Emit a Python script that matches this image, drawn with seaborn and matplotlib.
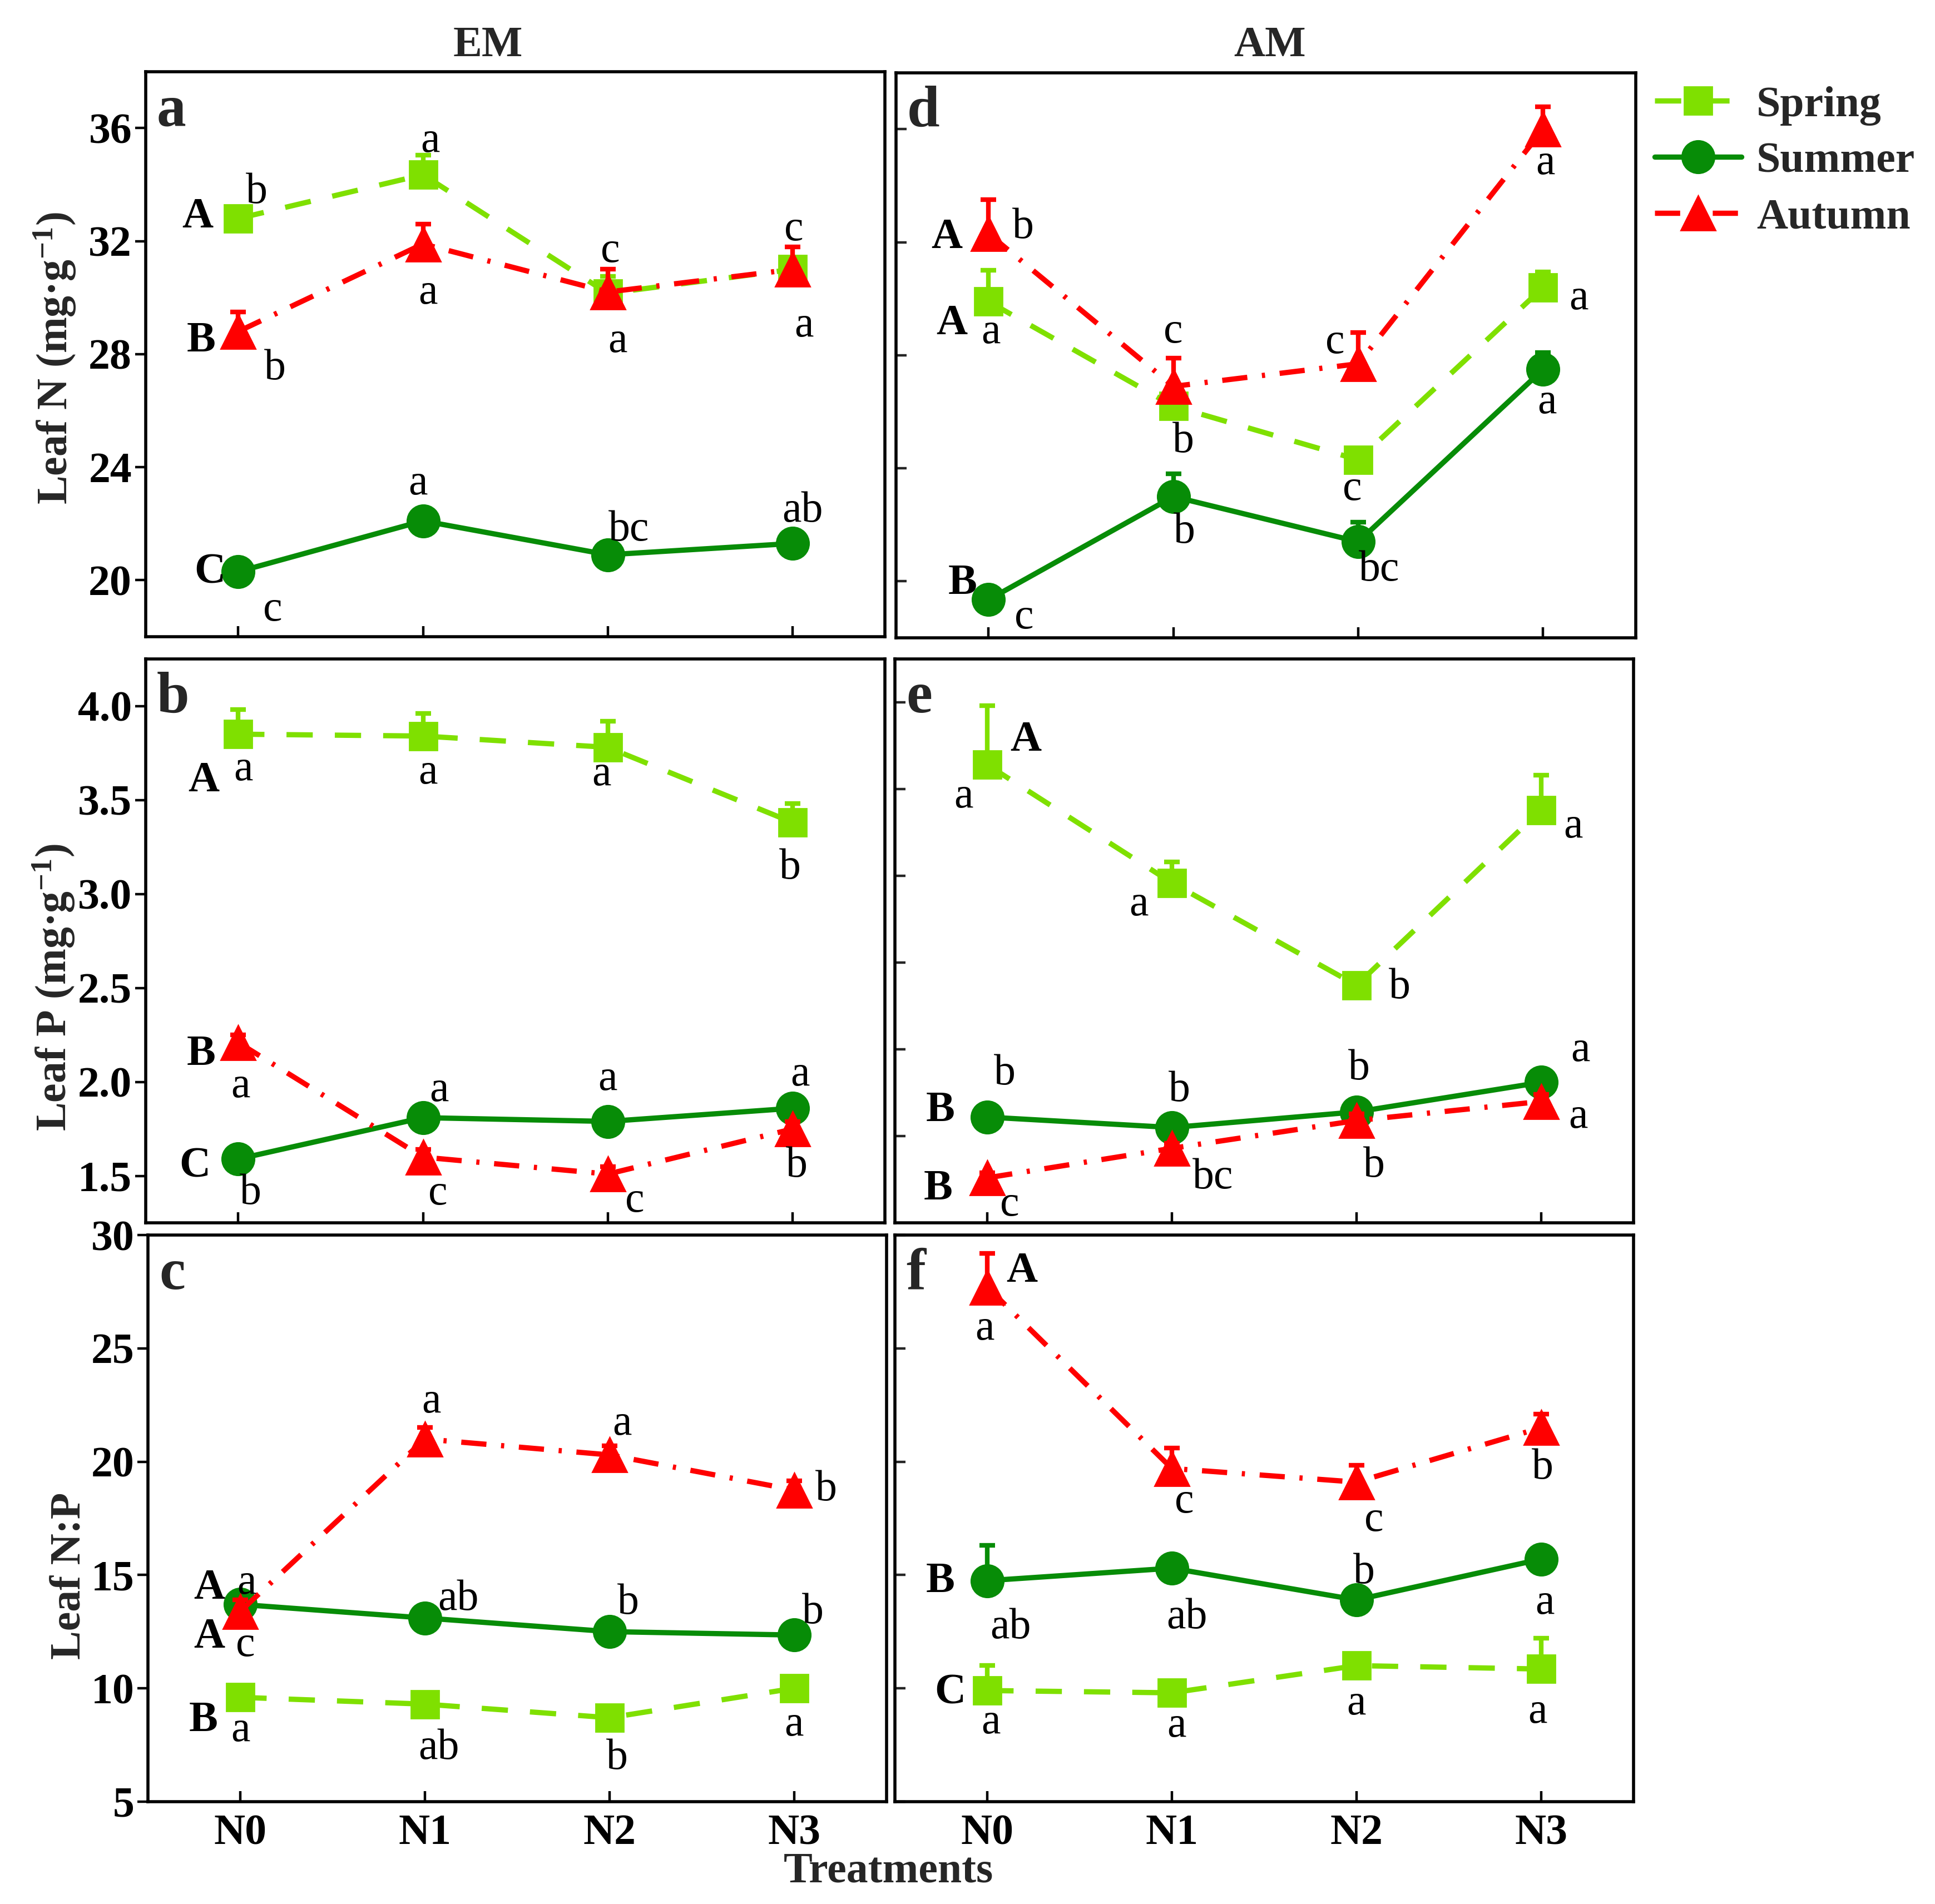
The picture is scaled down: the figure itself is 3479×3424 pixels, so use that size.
import numpy as np
import matplotlib
matplotlib.use("Agg")
import matplotlib.pyplot as plt
import seaborn as sns

# ---------------- data ----------------
treatments = ["N0", "N1", "N2", "N3"]
seasons = ["Spring", "Summer", "Autumn"]

# Leaf N (mg g-1)
EM_N_spring = [32.8, 34.35, 30.15, 31.0]
EM_N_summer = [20.3, 22.1, 20.9, 21.3]
EM_N_autumn = [28.8, 31.9, 30.2, 31.0]
AM_N_spring = [29.9, 26.2, 24.3, 30.4]
AM_N_summer = [19.35, 23.0, 21.4, 27.5]
AM_N_autumn = [32.3, 26.9, 27.7, 36.0]
EM_N_spring_se = [0.3, 0.7, 0.6, 0.4]
EM_N_summer_se = [0.2, 0.3, 0.2, 0.2]
EM_N_autumn_se = [0.7, 0.7, 0.8, 0.8]
AM_N_spring_se = [1.1, 0.4, 0.3, 0.55]
AM_N_summer_se = [0.3, 0.8, 0.7, 0.6]
AM_N_autumn_se = [1.2, 1.0, 1.1, 0.8]

# Leaf P (mg g-1)
EM_P_spring = [3.85, 3.84, 3.78, 3.38]
EM_P_summer = [1.59, 1.81, 1.79, 1.86]
EM_P_autumn = [2.21, 1.60, 1.51, 1.75]
AM_P_spring = [3.64, 2.96, 2.37, 3.38]
AM_P_summer = [1.61, 1.55, 1.64, 1.81]
AM_P_autumn = [1.26, 1.43, 1.59, 1.70]
EM_P_spring_se = [0.13, 0.12, 0.14, 0.10]
EM_P_summer_se = [0.03, 0.03, 0.03, 0.04]
EM_P_autumn_se = [0.04, 0.04, 0.04, 0.04]
AM_P_spring_se = [0.34, 0.12, 0.04, 0.20]
AM_P_summer_se = [0.04, 0.04, 0.05, 0.06]
AM_P_autumn_se = [0.03, 0.03, 0.04, 0.04]

# Leaf N:P
EM_NP_spring = [9.6, 9.3, 8.7, 10.0]
EM_NP_summer = [13.7, 13.1, 12.5, 12.35]
EM_NP_autumn = [13.4, 21.0, 20.3, 18.75]
AM_NP_spring = [9.9, 9.8, 11.0, 10.85]
AM_NP_summer = [14.75, 15.3, 13.9, 15.7]
AM_NP_autumn = [27.7, 19.7, 19.1, 21.5]
EM_NP_spring_se = [0.3, 0.3, 0.2, 0.3]
EM_NP_summer_se = [0.3, 0.3, 0.3, 0.3]
EM_NP_autumn_se = [0.5, 0.5, 0.4, 0.4]
AM_NP_spring_se = [1.1, 0.3, 0.3, 1.35]
AM_NP_summer_se = [1.55, 0.3, 0.3, 0.3]
AM_NP_autumn_se = [1.5, 0.9, 0.75, 0.6]

# significance letters (lower: among treatments; upper: among seasons at N0)
let_a = {"Spring": ["b", "a", "c", "c"], "Summer": ["c", "a", "bc", "ab"], "Autumn": ["b", "a", "a", "a"]}
up_a = {"Spring": "A", "Summer": "C", "Autumn": "B"}
let_d = {"Spring": ["a", "b", "c", "a"], "Summer": ["c", "b", "bc", "a"], "Autumn": ["b", "c", "c", "a"]}
up_d = {"Spring": "A", "Summer": "B", "Autumn": "A"}
let_b = {"Spring": ["a", "a", "a", "b"], "Summer": ["b", "a", "a", "a"], "Autumn": ["a", "c", "c", "b"]}
up_b = {"Spring": "A", "Summer": "C", "Autumn": "B"}
let_e = {"Spring": ["a", "a", "b", "a"], "Summer": ["b", "b", "b", "a"], "Autumn": ["c", "bc", "b", "a"]}
up_e = {"Spring": "A", "Summer": "B", "Autumn": "B"}
let_c = {"Spring": ["a", "ab", "b", "a"], "Summer": ["a", "ab", "b", "b"], "Autumn": ["c", "a", "a", "b"]}
up_c = {"Spring": "B", "Summer": "A", "Autumn": "A"}
let_f = {"Spring": ["a", "a", "a", "a"], "Summer": ["ab", "ab", "b", "a"], "Autumn": ["a", "c", "c", "b"]}
up_f = {"Spring": "C", "Summer": "B", "Autumn": "A"}

# ---------------- layout of letter labels (offsets in reference px, y down) ----------------
off_a = {"Spring": [(15, -21), (6, -27), (2, -34), (1, -32)], "Summer": [(28, 31), (-4, -30), (17, -20), (8, -26)],
         "Autumn": [(30, 30), (4, 40), (8, 40), (9, 46)]}
uoff_a = {"Spring": (-33, -1), "Summer": (-23, 1), "Autumn": (-30, 8)}
off_d = {"Spring": [(2, 25), (8, 29), (-5, 24), (29, 9)], "Summer": [(29, 15), (9, 29), (17, 23), (3, 27)],
         "Autumn": [(28, -5), (0, -44), (-19, -17), (2, 28)]}
uoff_d = {"Spring": (-30, 18), "Summer": (-21, -13), "Autumn": (-34, 3)}
off_b = {"Spring": [(4, 29), (4, 30), (-5, 22), (-2, 37)], "Summer": [(10, 28), (13, -22), (0, -34), (6, -27)],
         "Autumn": [(2, 36), (12, 30), (22, 22), (3, 30)]}
uoff_b = {"Spring": (-28, 38), "Summer": (-35, 6), "Autumn": (-30, 10)}
off_e = {"Spring": [(-19, 26), (-27, 18), (35, 2), (26, 14)], "Summer": [(14, -35), (6, -30), (2, -35), (32, -26)],
         "Autumn": [(18, 22), (33, 24), (14, 37), (30, 13)]}
uoff_e = {"Spring": (31, -20), "Summer": (-38, -5), "Autumn": (-40, 9)}
off_c = {"Spring": [(0, 27), (11, 36), (6, 33), (0, 30)], "Summer": [(5, -17), (27, -15), (15, -23), (15, -18)],
         "Autumn": [(4, 28), (5, -30), (10, -25), (26, 0)]}
uoff_c = {"Spring": (-30, 19), "Summer": (-25, -13), "Autumn": (-25, 21)}
off_f = {"Spring": [(3, 26), (4, 27), (0, 31), (-3, 35)], "Summer": [(19, 38), (12, 40), (6, -22), (3, 36)],
         "Autumn": [(-2, 34), (10, 27), (14, 31), (1, 33)]}
uoff_f = {"Spring": (-30, 2), "Summer": (-38, 1), "Autumn": (28, -13)}

# ---------------- style ----------------
sns.set_theme(style="ticks")
plt.rcParams["font.family"] = ["Liberation Serif", "DejaVu Serif"]
plt.rcParams["font.serif"] = ["Liberation Serif", "DejaVu Serif"]
plt.rcParams["mathtext.fontset"] = "custom"
plt.rcParams["mathtext.rm"] = "Liberation Serif"
plt.rcParams["mathtext.bf"] = "Liberation Serif:bold"
plt.rcParams["mathtext.it"] = "Liberation Serif:italic"

STY = {
    "Spring": dict(color="#7FE000", marker="s", ms=18, ls=(0, (5.0, 4.2)), z=3),
    "Summer": dict(color="#078C07", marker="o", ms=21, ls="-", z=4),
    "Autumn": dict(color="#FF0000", marker="^", ms=22, ls=(0, (4.8, 2.8, 0.6, 2.8)), z=5),
}
FS = 28
PX = 3480 / 1568 * 72 / 200  # reference px -> points

fig = plt.figure(figsize=(17.4, 17.12), dpi=200)
fig.patch.set_facecolor("white")

rects = {
    "a": [0.0753, 0.6656, 0.3820, 0.2968],
    "d": [0.4630, 0.6650, 0.3820, 0.2968],
    "b": [0.0753, 0.3577, 0.3820, 0.2962],
    "e": [0.4624, 0.3577, 0.3815, 0.2962],
    "c": [0.0765, 0.0538, 0.3815, 0.2975],
    "f": [0.4624, 0.0538, 0.3815, 0.2975],
}

panels = {
    "a": dict(vals=[EM_N_spring, EM_N_summer, EM_N_autumn], se=[EM_N_spring_se, EM_N_summer_se, EM_N_autumn_se],
              let=let_a, up=up_a, off=off_a, uoff=uoff_a, ylim=(18, 38), yt=[20, 24, 28, 32, 36], fmt="{:.0f}",
              left=True, bottom=False),
    "d": dict(vals=[AM_N_spring, AM_N_summer, AM_N_autumn], se=[AM_N_spring_se, AM_N_summer_se, AM_N_autumn_se],
              let=let_d, up=up_d, off=off_d, uoff=uoff_d, ylim=(18, 38), yt=[20, 24, 28, 32, 36], fmt="{:.0f}",
              left=False, bottom=False),
    "b": dict(vals=[EM_P_spring, EM_P_summer, EM_P_autumn], se=[EM_P_spring_se, EM_P_summer_se, EM_P_autumn_se],
              let=let_b, up=up_b, off=off_b, uoff=uoff_b, ylim=(1.25, 4.25), yt=[1.5, 2.0, 2.5, 3.0, 3.5, 4.0],
              fmt="{:.1f}", left=True, bottom=False),
    "e": dict(vals=[AM_P_spring, AM_P_summer, AM_P_autumn], se=[AM_P_spring_se, AM_P_summer_se, AM_P_autumn_se],
              let=let_e, up=up_e, off=off_e, uoff=uoff_e, ylim=(1.0, 4.25), yt=[1.5, 2.0, 2.5, 3.0, 3.5, 4.0],
              fmt="{:.1f}", left=False, bottom=False),
    "c": dict(vals=[EM_NP_spring, EM_NP_summer, EM_NP_autumn], se=[EM_NP_spring_se, EM_NP_summer_se, EM_NP_autumn_se],
              let=let_c, up=up_c, off=off_c, uoff=uoff_c, ylim=(5, 30), yt=[5, 10, 15, 20, 25, 30], fmt="{:.0f}",
              left=True, bottom=True),
    "f": dict(vals=[AM_NP_spring, AM_NP_summer, AM_NP_autumn], se=[AM_NP_spring_se, AM_NP_summer_se, AM_NP_autumn_se],
              let=let_f, up=up_f, off=off_f, uoff=uoff_f, ylim=(5, 30), yt=[5, 10, 15, 20, 25, 30], fmt="{:.0f}",
              left=False, bottom=True),
}

xpos = np.arange(len(treatments))
axes = {}
for key, p in panels.items():
    ax = fig.add_axes(rects[key])
    axes[key] = ax
    ax.set_facecolor("white")
    for s, vals, se in zip(seasons, p["vals"], p["se"]):
        st = STY[s]
        vals = np.asarray(vals, float)
        se = np.asarray(se, float)
        ax.errorbar(xpos, vals, yerr=[np.zeros_like(se), se], fmt="none", ecolor=st["color"],
                    elinewidth=3, capsize=5, capthick=3, zorder=st["z"] - 0.5)
        sns.lineplot(x=xpos, y=vals, ax=ax, color=st["color"], marker=st["marker"], ms=st["ms"],
                     ls=st["ls"], lw=3.4, mec=st["color"], mew=1, label=s, errorbar=None, zorder=st["z"])
        for i, (lt, (dx, dy)) in enumerate(zip(p["let"][s], p["off"][s])):
            ax.annotate(lt, (xpos[i], vals[i]), xytext=(dx * PX, -dy * PX), textcoords="offset points",
                        ha="center", va="center", fontsize=FS, color="black", zorder=10,
                        family="Liberation Serif", annotation_clip=False)
        ux, uy = p["uoff"][s]
        ax.annotate(p["up"][s], (xpos[0], vals[0]), xytext=(ux * PX, -uy * PX), textcoords="offset points",
                    ha="center", va="center", fontsize=FS, fontweight="bold", color="black", zorder=10,
                    family="Liberation Serif", annotation_clip=False)
    if ax.get_legend() is not None:
        ax.get_legend().remove()
    ax.set_xlim(-0.5, 3.5)
    ax.set_xticks(xpos)
    ax.set_ylim(*p["ylim"])
    ax.set_yticks(p["yt"])
    ax.set_xlabel("")
    ax.set_ylabel("")
    for sp in ax.spines.values():
        sp.set_visible(True)
        sp.set_linewidth(2.0)
        sp.set_color("black")
    ax.tick_params(axis="x", direction="in", length=7, width=1.6, pad=8, colors="black")
    if p["bottom"]:
        ax.set_xticklabels(treatments, fontsize=FS, fontweight="bold")
    else:
        ax.tick_params(axis="x", labelbottom=False)
    if p["left"]:
        ax.tick_params(axis="y", direction="out", length=7, width=1.6, pad=2, colors="black")
        ax.set_yticklabels([p["fmt"].format(v) for v in p["yt"]], fontsize=FS, fontweight="bold")
    else:
        ax.tick_params(axis="y", direction="in", length=7, width=1.6, labelleft=False)
    ax.text(0.015, 0.905, key, transform=ax.transAxes, ha="left", va="baseline",
            fontsize=38, fontweight="bold", zorder=12)

# y labels
axes["a"].set_ylabel("Leaf N (mg·g$^{\\mathbf{-1}}$)", fontsize=FS, fontweight="bold")
axes["a"].yaxis.set_label_coords(-0.092, 0.493)
axes["b"].set_ylabel("Leaf P (mg·g$^{\\mathbf{-1}}$)", fontsize=FS, fontweight="bold")
axes["b"].yaxis.set_label_coords(-0.093, 0.418)
axes["c"].set_ylabel("Leaf N:P", fontsize=FS, fontweight="bold")
axes["c"].yaxis.set_label_coords(-0.080, 0.399)

# column titles and x label
fig.text(0.252, 0.976, "EM", ha="center", va="center", fontsize=FS, fontweight="bold")
fig.text(0.656, 0.976, "AM", ha="center", va="center", fontsize=FS, fontweight="bold")
fig.text(0.459, 0.017, "Treatments", ha="center", va="center", fontsize=FS, fontweight="bold")

# legend
handles, labels = axes["d"].get_legend_handles_labels()
fig.legend(handles, labels, loc="upper left", bbox_to_anchor=(0.855, 0.955), frameon=False,
           prop=dict(family="Liberation Serif", weight="bold", size=FS), handlelength=2.0,
           handletextpad=0.35, labelspacing=0.38, borderaxespad=0, borderpad=0, numpoints=1)

fig.savefig("out.png", dpi=200, facecolor="white")
